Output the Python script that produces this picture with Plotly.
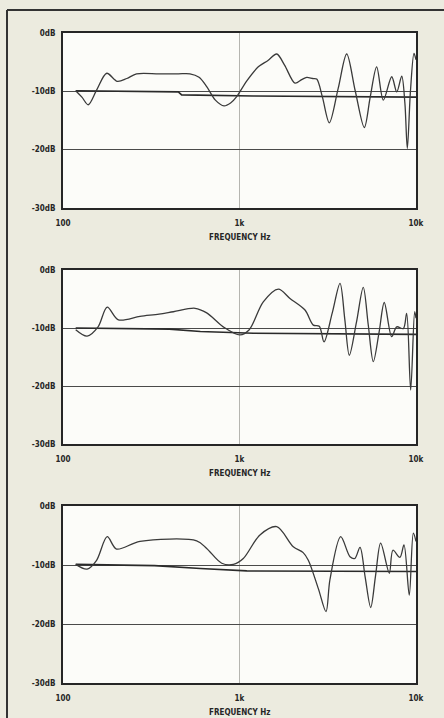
import plotly.graph_objects as go

# ---- frequency responses (Hz, dB) for the three panels ----
freq_a = [118, 128, 139, 155, 177, 203, 230, 261, 350, 450, 524, 590, 652, 730, 817, 890, 964,
          1100, 1278, 1450, 1625, 1800, 2063, 2250, 2404, 2600, 2738, 2950, 3228, 3623, 4049,
          4524, 5096, 5502, 5986, 6530, 7286, 7778, 8300, 8650, 8930, 9300, 9743, 10000]
level_a = [-9.9, -11.0, -12.3, -9.8, -6.9, -8.3, -7.8, -7.0, -7.0, -7.0, -7.0, -7.6, -9.2, -11.5,
           -12.5, -12.0, -10.9, -8.2, -5.8, -4.7, -3.6, -5.5, -8.6, -8.0, -7.6, -7.8, -7.9, -11.0,
           -15.4, -9.5, -3.6, -9.9, -16.2, -11.0, -5.8, -11.5, -7.5, -10.1, -7.4, -12.0, -19.8,
           -10.0, -3.5, -4.6]
ref_freq_a = [118, 450, 470, 1200, 10000]
ref_level_a = [-9.9, -10.1, -10.6, -10.8, -11.0]

freq_b = [118, 137, 158, 178, 206, 273, 350, 422, 560, 652, 809, 1006, 1136, 1364, 1660, 1932,
          2350, 2619, 2832, 3012, 3354, 3711, 3950, 4190, 4600, 5026, 5361, 5729, 6180, 6610,
          7280, 7780, 8475, 8853, 9330, 9830, 10000]
level_b = [-10.3, -11.4, -9.8, -6.4, -8.6, -8.0, -7.6, -7.2, -6.6, -7.4, -9.8, -11.2, -10.3, -5.5,
           -3.3, -4.9, -6.9, -9.5, -9.7, -12.4, -7.4, -2.3, -8.5, -14.7, -9.0, -3.0, -9.4, -15.8,
           -10.7, -5.6, -11.5, -9.8, -10.1, -7.5, -20.7, -7.2, -8.3]
ref_freq_b = [118, 400, 600, 1200, 10000]
ref_level_b = [-10.0, -10.2, -10.6, -10.9, -11.1]

freq_c = [118, 137, 155, 178, 201, 273, 572, 652, 793, 923, 1051, 1306, 1625, 2017, 2295, 2454,
          2797, 3092, 3253, 3744, 4228, 4500, 4818, 5150, 5539, 5900, 6306, 7061, 7400, 8110,
          8550, 9160, 9660, 10000]
level_c = [-9.9, -10.7, -9.2, -5.2, -7.3, -6.0, -5.9, -7.2, -9.7, -9.9, -8.9, -4.9, -3.5, -6.9,
           -7.9, -9.2, -14.0, -17.9, -12.5, -5.2, -8.6, -8.9, -7.0, -12.0, -17.2, -11.8, -6.3,
           -11.4, -7.5, -8.7, -6.6, -15.1, -4.6, -6.0]
ref_freq_c = [118, 330, 600, 1100, 10000]
ref_level_c = [-9.9, -10.1, -10.6, -11.0, -11.1]

x_tickvals = [100, 1000, 10000]
x_ticktext = ["100", "1k", "10k"]
y_tickvals = [0, -10, -20, -30]
y_ticktext = ["0dB", "-10dB", "-20dB", "-30dB"]
x_title = "FREQUENCY Hz"

W, H = 444, 718
PAPER = "#ecebdf"
INK = "#262626"
FONT = "DejaVu Sans Condensed, Liberation Sans Narrow, Arial Narrow, sans-serif"

# panel boxes in pixels: (top, bottom)
panels = [(33, 208), (270, 444), (506, 683)]
box_left, box_right = 63, 416
title_y = [237, 473, 712]

curves = [(freq_a, level_a, ref_freq_a, ref_level_a),
          (freq_b, level_b, ref_freq_b, ref_level_b),
          (freq_c, level_c, ref_freq_c, ref_level_c)]

fig = go.Figure()
layout = dict(
    width=W, height=H,
    margin=dict(l=0, r=0, t=0, b=0, pad=0),
    paper_bgcolor=PAPER,
    plot_bgcolor="#fcfcf9",
    showlegend=False,
    font=dict(family=FONT, size=8, color=INK, weight="bold"),
)

annotations = []
for i, ((top, bot), (fx, lv, rfx, rlv)) in enumerate(zip(panels, curves)):
    n = "" if i == 0 else str(i + 1)
    xa, ya = "x" + n, "y" + n
    fig.add_trace(go.Scatter(x=rfx, y=rlv, xaxis=xa, yaxis=ya, mode="lines",
                             line=dict(color="#2a2a2a", width=1.6), hoverinfo="skip"))
    fig.add_trace(go.Scatter(x=fx, y=lv, xaxis=xa, yaxis=ya, mode="lines",
                             line=dict(color="#3a3a3a", width=1.3, shape="spline", smoothing=0.9),
                             hoverinfo="skip"))
    layout["xaxis" + n] = dict(
        type="log", range=[2, 4], domain=[box_left / W, box_right / W],
        anchor=ya, tickvals=x_tickvals, ticktext=x_ticktext, automargin=False,
        showgrid=True, gridcolor="#b5b5b0", gridwidth=1,
        showline=True, mirror=True, linecolor=INK, linewidth=2,
        ticks="", ticklabelstandoff=6, zeroline=False,
        tickfont=dict(family=FONT, size=8, color=INK, weight="bold"),
    )
    layout["yaxis" + n] = dict(
        range=[-30, 0], domain=[1 - bot / H, 1 - top / H],
        anchor=xa, tickvals=y_tickvals, ticktext=y_ticktext, automargin=False,
        showgrid=True, gridcolor="#4a4a4a", gridwidth=1.3,
        showline=True, mirror=True, linecolor=INK, linewidth=2,
        ticks="", ticklabelstandoff=4, zeroline=False,
        tickfont=dict(family=FONT, size=8, color=INK, weight="bold"),
    )
    annotations.append(dict(
        text=x_title, xref="paper", yref="paper",
        x=240 / W, y=1 - title_y[i] / H, xanchor="center", yanchor="middle",
        showarrow=False, font=dict(family=FONT, size=8, color=INK, weight="bold"),
    ))

layout["annotations"] = annotations
# page frame along the top and left edges
layout["shapes"] = [
    dict(type="line", xref="paper", yref="paper", x0=7 / W, x1=1, y0=1 - 10 / H, y1=1 - 10 / H,
         line=dict(color="#333333", width=2)),
    dict(type="line", xref="paper", yref="paper", x0=7 / W, x1=7 / W, y0=0, y1=1 - 10 / H,
         line=dict(color="#333333", width=2)),
]
fig.update_layout(**layout)
fig.write_html("out.html")
